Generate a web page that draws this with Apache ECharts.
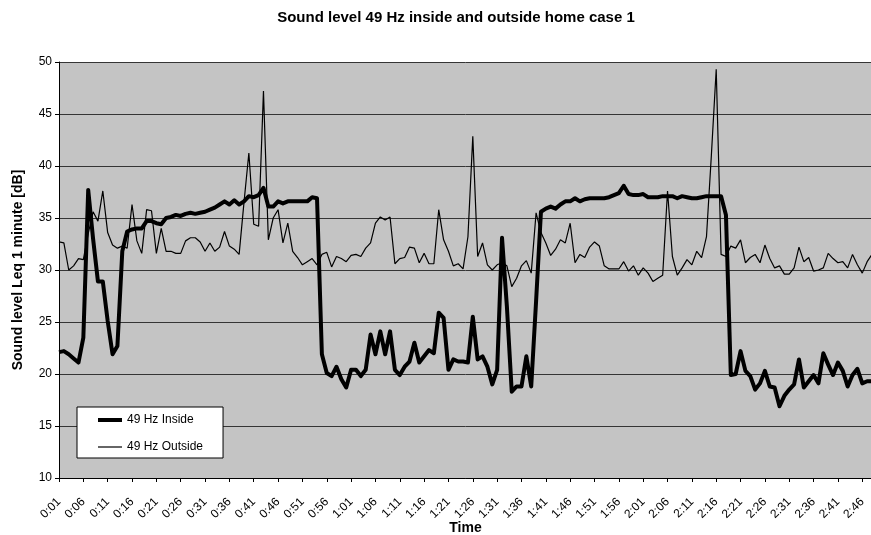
<!DOCTYPE html>
<html>
<head>
<meta charset="utf-8">
<script src="https://cdn.jsdelivr.net/npm/echarts@6/dist/echarts.min.js"></script>
<style>
html,body{margin:0;padding:0;background:#fff;}
#c{width:871px;height:535px;}
</style>
</head>
<body>
<div id="c"></div>
<script>
// Time categories, one per minute (0:01 ... 2:48)
const categories = [];
for (let m = 1; m <= 168; m++) {
  categories.push(Math.floor(m / 60) + ':' + String(m % 60).padStart(2, '0'));
}

const inside = [
22.1,22.2,21.9,21.5,21.1,23.5,37.7,33.0,28.9,28.9,
25.1,21.9,22.7,31.8,33.7,33.9,34.0,34.0,34.7,34.7,
34.5,34.4,35.0,35.1,35.3,35.2,35.4,35.5,35.4,35.5,
35.6,35.8,36.0,36.3,36.6,36.3,36.7,36.3,36.6,37.1,
37.0,37.2,37.9,36.1,36.1,36.6,36.4,36.6,36.6,36.6,
36.6,36.6,37.0,36.9,21.9,20.1,19.8,20.7,19.5,18.7,
20.4,20.4,19.8,20.4,23.8,21.9,24.1,21.9,24.1,20.4,
19.9,20.7,21.2,23.0,21.1,21.7,22.3,22.0,25.9,25.4,
20.4,21.4,21.2,21.2,21.1,25.5,21.4,21.7,20.7,19.0,
20.4,33.1,26.5,18.3,18.8,18.8,21.7,18.8,27.0,35.6,
35.9,36.1,35.9,36.3,36.6,36.6,36.9,36.6,36.8,36.9,
36.9,36.9,36.9,37.0,37.2,37.4,38.1,37.3,37.2,37.2,
37.3,37.0,37.0,37.0,37.1,37.1,37.1,36.9,37.1,37.0,
36.9,36.9,37.0,37.1,37.1,37.1,37.1,35.3,19.9,20.0,
22.2,20.3,19.8,18.5,19.1,20.3,18.8,18.7,16.9,17.9,
18.5,19.0,21.4,18.7,19.3,19.9,19.1,22.0,20.9,19.9,
21.1,20.3,18.8,19.9,20.5,19.1,19.3,19.3
];

const outside = [
32.7,32.6,30.0,30.4,31.1,31.0,33.5,35.6,34.7,37.6,
33.6,32.4,32.1,32.3,32.1,36.3,32.8,31.6,35.8,35.7,
31.6,34.0,31.8,31.8,31.6,31.6,32.8,33.1,33.1,32.7,
31.8,32.6,31.8,32.2,33.7,32.3,32.0,31.5,36.5,41.25,
34.4,34.2,47.2,32.9,35.0,35.8,32.6,34.5,31.8,31.2,
30.5,30.8,31.1,30.5,31.5,31.7,30.3,31.3,31.1,30.8,
31.4,31.5,31.3,32.1,32.6,34.5,35.1,34.8,35.1,30.6,
31.1,31.2,32.2,32.1,30.7,31.6,30.6,30.6,35.8,32.9,
31.8,30.4,30.6,30.1,33.2,42.85,31.3,32.6,30.5,30.0,
30.5,30.7,30.4,28.4,29.2,30.4,30.9,29.7,35.5,33.6,
32.6,31.4,32.0,32.9,32.6,34.5,30.7,31.5,31.2,32.2,
32.7,32.3,30.4,30.1,30.1,30.1,30.8,29.9,30.4,29.5,
30.2,29.7,28.9,29.2,29.5,37.6,31.3,29.5,30.2,31.0,
30.5,31.8,31.2,33.2,41.0,49.3,31.5,31.3,32.3,32.1,
32.9,30.7,31.2,31.5,30.7,32.4,31.1,30.2,30.4,29.6,
29.6,30.2,32.2,30.8,31.2,29.9,30.0,30.2,31.6,31.1,
30.7,30.8,30.2,31.5,30.5,29.7,30.8,31.5
];

const seriesNames = ['49 Hz Inside', '49 Hz Outside'];
const titleText = 'Sound level 49 Hz inside and outside home case 1';
const yName = 'Sound level Leq 1 minute [dB]';
const xName = 'Time';

const FONT = '"Liberation Sans", Arial, sans-serif';
const chart = echarts.init(document.getElementById('c'), null, {renderer: 'canvas'});
chart.setOption({
  animation: false,
  backgroundColor: '#ffffff',
  textStyle: {fontFamily: FONT},
  title: {
    text: titleText,
    left: 451, top: 5, textAlign: 'center',
    textStyle: {fontFamily: FONT, fontSize: 15, fontWeight: 'bold', color: '#000'}
  },
  legend: {
    orient: 'vertical',
    left: 77, top: 407,
    backgroundColor: '#ffffff',
    borderColor: '#000', borderWidth: 1, borderRadius: 0,
    padding: [7, 20, 5, 21],
    itemWidth: 24, itemHeight: 14, itemGap: 15,
    textStyle: {fontFamily: FONT, fontSize: 12, color: '#000'},
    data: [
      {name: seriesNames[0], icon: 'path://M0,0L24,0L24,4L0,4Z'},
      {name: seriesNames[1], icon: 'path://M0,0L24,0L24,1.2L0,1.2Z'}
    ]
  },
  grid: {
    show: true, backgroundColor: '#c4c4c4', borderWidth: 0,
    left: 59, top: 62, width: 813, height: 416,
    containLabel: false, outerBoundsMode: 'none'
  },
  xAxis: {
    type: 'category', data: categories, boundaryGap: false,
    name: xName, nameLocation: 'middle', nameGap: 43, nameMoveOverlap: false,
    nameTextStyle: {fontFamily: FONT, fontSize: 14, fontWeight: 'bold', color: '#000'},
    axisLine: {show: true, lineStyle: {color: '#000', width: 1}},
    axisTick: {show: true, interval: 4, length: 4, lineStyle: {color: '#000'}},
    axisLabel: {interval: 4, rotate: 45, fontSize: 12, color: '#000', margin: 22, fontFamily: FONT},
    splitLine: {show: false}
  },
  yAxis: {
    type: 'value', min: 10, max: 50, interval: 5,
    name: yName, nameLocation: 'middle', nameGap: 34, nameMoveOverlap: false,
    nameTextStyle: {fontFamily: FONT, fontSize: 14, fontWeight: 'bold', color: '#000'},
    axisLine: {show: true, lineStyle: {color: '#000', width: 1}},
    axisTick: {show: true, length: 4, lineStyle: {color: '#000'}},
    axisLabel: {fontSize: 12, color: '#000', margin: 7, fontFamily: FONT},
    splitLine: {show: true, lineStyle: {color: '#353535', width: 1}}
  },
  series: [
    {
      name: seriesNames[0], type: 'line', data: inside,
      symbol: 'none', showSymbol: false,
      lineStyle: {color: '#000', width: 4, join: 'round'},
      itemStyle: {color: '#000'}, z: 3
    },
    {
      name: seriesNames[1], type: 'line', data: outside,
      symbol: 'none', showSymbol: false,
      lineStyle: {color: '#000', width: 1.2},
      itemStyle: {color: '#000'}, z: 2
    }
  ]
});
</script>
</body>
</html>
